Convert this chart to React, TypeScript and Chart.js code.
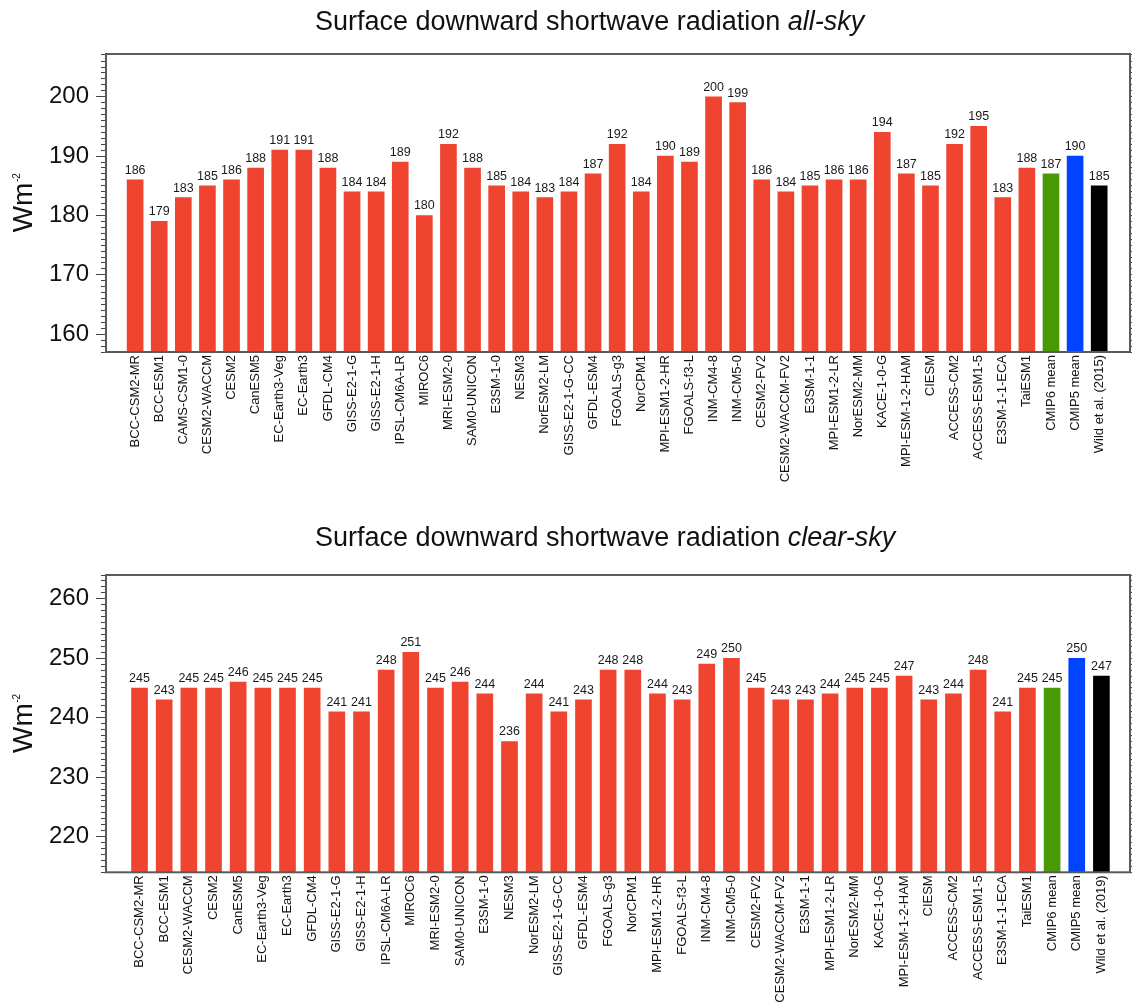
import React, { useEffect, useRef } from "react";
import { Chart, registerables } from "chart.js";

Chart.register(...registerables);

const FONT = "'Liberation Sans', Arial, Helvetica, sans-serif";

// ---- all-sky panel -------------------------------------------------------
const allSkyModels = [
  "BCC-CSM2-MR", "BCC-ESM1", "CAMS-CSM1-0", "CESM2-WACCM", "CESM2", "CanESM5",
  "EC-Earth3-Veg", "EC-Earth3", "GFDL-CM4", "GISS-E2-1-G", "GISS-E2-1-H",
  "IPSL-CM6A-LR", "MIROC6", "MRI-ESM2-0", "SAM0-UNICON", "E3SM-1-0", "NESM3",
  "NorESM2-LM", "GISS-E2-1-G-CC", "GFDL-ESM4", "FGOALS-g3", "NorCPM1",
  "MPI-ESM1-2-HR", "FGOALS-f3-L", "INM-CM4-8", "INM-CM5-0", "CESM2-FV2",
  "CESM2-WACCM-FV2", "E3SM-1-1", "MPI-ESM1-2-LR", "NorESM2-MM", "KACE-1-0-G",
  "MPI-ESM-1-2-HAM", "CIESM", "ACCESS-CM2", "ACCESS-ESM1-5", "E3SM-1-1-ECA",
  "TaiESM1", "CMIP6 mean", "CMIP5 mean", "Wild et al. (2015)",
];
const allSkyValues = [
  186, 179, 183, 185, 186, 188, 191, 191, 188, 184, 184, 189, 180, 192, 188,
  185, 184, 183, 184, 187, 192, 184, 190, 189, 200, 199, 186, 184, 185, 186,
  186, 194, 187, 185, 192, 195, 183, 188, 187, 190, 185,
];
const allSkyTickLabels = [160, 170, 180, 190, 200];

// ---- clear-sky panel -----------------------------------------------------
const clearSkyModels = [
  "BCC-CSM2-MR", "BCC-ESM1", "CESM2-WACCM", "CESM2", "CanESM5", "EC-Earth3-Veg",
  "EC-Earth3", "GFDL-CM4", "GISS-E2-1-G", "GISS-E2-1-H", "IPSL-CM6A-LR",
  "MIROC6", "MRI-ESM2-0", "SAM0-UNICON", "E3SM-1-0", "NESM3", "NorESM2-LM",
  "GISS-E2-1-G-CC", "GFDL-ESM4", "FGOALS-g3", "NorCPM1", "MPI-ESM1-2-HR",
  "FGOALS-f3-L", "INM-CM4-8", "INM-CM5-0", "CESM2-FV2", "CESM2-WACCM-FV2",
  "E3SM-1-1", "MPI-ESM1-2-LR", "NorESM2-MM", "KACE-1-0-G", "MPI-ESM-1-2-HAM",
  "CIESM", "ACCESS-CM2", "ACCESS-ESM1-5", "E3SM-1-1-ECA", "TaiESM1",
  "CMIP6 mean", "CMIP5 mean", "Wild et al. (2019)",
];
const clearSkyValues = [
  245, 243, 245, 245, 246, 245, 245, 245, 241, 241, 248, 251, 245, 246, 244,
  236, 244, 241, 243, 248, 248, 244, 243, 249, 250, 245, 243, 243, 244, 245,
  245, 247, 243, 244, 248, 241, 245, 245, 250, 247,
];
const clearSkyTickLabels = [220, 230, 240, 250, 260];

// colours: individual models, CMIP6 mean, CMIP5 mean, observational estimate
const MODEL_RED = "#ee4430";
const CMIP6_GREEN = "#4a9a08";
const CMIP5_BLUE = "#0044ff";
const OBS_BLACK = "#000000";

function barColours(n: number): string[] {
  return Array.from({ length: n }, (_, i) =>
    i === n - 3 ? CMIP6_GREEN : i === n - 2 ? CMIP5_BLUE : i === n - 1 ? OBS_BLACK : MODEL_RED
  );
}

type PanelSpec = {
  models: string[];
  values: number[];
  tickLabels: number[];
  yMin: number;
  yMax: number;
  xMin: number;
  xMax: number;
  heading: string;
  headingItalic: string;
  headingBaseline: number;
  frameTop: number;
  frameBottom: number;
  height: number;
};

const WIDTH = 1132;
const AXIS_LEFT = 106;

function makeConfig(p: PanelSpec): any {
  const isMajor = (v: number) => p.tickLabels.includes(v);

  const headingPlugin = {
    id: "heading",
    afterDraw(chart: any) {
      const ctx = chart.ctx;
      ctx.save();
      ctx.fillStyle = "#111";
      ctx.textAlign = "left";
      ctx.textBaseline = "alphabetic";
      ctx.font = `27px ${FONT}`;
      const x0 = 315;
      ctx.fillText(p.heading, x0, p.headingBaseline);
      const w = ctx.measureText(p.heading).width;
      ctx.font = `italic 27px ${FONT}`;
      ctx.fillText(p.headingItalic, x0 + w, p.headingBaseline);
      ctx.restore();
    },
  };

  const unitPlugin = {
    id: "unitTitle",
    afterDraw(chart: any) {
      const ctx = chart.ctx;
      const { top, bottom } = chart.chartArea;
      ctx.save();
      ctx.translate(31.5, (top + bottom) / 2);
      ctx.rotate(-Math.PI / 2);
      ctx.fillStyle = "#111";
      ctx.textBaseline = "alphabetic";
      ctx.textAlign = "left";
      ctx.font = `28px ${FONT}`;
      const w1 = ctx.measureText("Wm").width;
      ctx.font = `10px ${FONT}`;
      const w2 = ctx.measureText("-2").width;
      const start = -(w1 + w2) / 2;
      ctx.font = `28px ${FONT}`;
      ctx.fillText("Wm", start, 0);
      ctx.font = `10px ${FONT}`;
      ctx.fillText("-2", start + w1 + 0.5, -12);
      ctx.restore();
    },
  };

  const valueLabelPlugin = {
    id: "valueLabels",
    afterDatasetsDraw(chart: any) {
      const ctx = chart.ctx;
      const meta = chart.getDatasetMeta(0);
      ctx.save();
      ctx.fillStyle = "#1a1a1a";
      ctx.textAlign = "center";
      ctx.textBaseline = "alphabetic";
      ctx.font = `12.5px ${FONT}`;
      meta.data.forEach((bar: any, i: number) => {
        ctx.fillText(String(p.values[i]), bar.x, bar.y - 6);
      });
      ctx.restore();
    },
  };

  const framePlugin = {
    id: "frame",
    afterDatasetsDraw(chart: any) {
      const { left, top, right, bottom } = chart.chartArea;
      const ctx = chart.ctx;
      ctx.save();
      ctx.strokeStyle = "#5a5a5a";
      ctx.lineWidth = 2;
      ctx.strokeRect(left, top, right - left, bottom - top);
      ctx.restore();
    },
  };

  const yGrid = (minorDash: number[]) => ({
    drawOnChartArea: false,
    drawTicks: true,
    tickLength: 10,
    tickColor: "#444",
    tickWidth: 1,
    tickBorderDash: (c: any) => (c.tick && isMajor(c.tick.value) ? [] : minorDash),
  });

  return {
    type: "bar",
    data: {
      datasets: [
        {
          data: p.values.map((v, i) => ({ x: i, y: v })),
          backgroundColor: barColours(p.values.length),
          borderWidth: 0,
          barThickness: 16,
        },
      ],
    },
    options: {
      responsive: false,
      animation: false,
      layout: { padding: { top: p.frameTop, left: 0, right: 0, bottom: 0 } },
      plugins: {
        legend: { display: false },
        tooltip: { enabled: false },
        title: { display: false },
      },
      scales: {
        x: {
          type: "linear",
          position: "bottom",
          min: p.xMin,
          max: p.xMax,
          grid: { display: false, drawTicks: false },
          border: { display: false },
          afterBuildTicks: (scale: any) => {
            scale.ticks = p.models.map((_, i) => ({ value: i }));
          },
          afterFit: (scale: any) => {
            scale.height = p.height - p.frameBottom;
          },
          ticks: {
            autoSkip: false,
            minRotation: 90,
            maxRotation: 90,
            padding: 3,
            color: "#111",
            font: { family: FONT, size: 13 },
            callback: (v: number) => p.models[v] ?? "",
          },
        },
        y: {
          type: "linear",
          position: "left",
          min: p.yMin,
          max: p.yMax,
          border: { display: false },
          grid: yGrid([0, 5, 5, 0]),
          afterFit: (scale: any) => {
            scale.width = AXIS_LEFT;
          },
          ticks: {
            stepSize: 1,
            autoSkip: false,
            padding: 7,
            color: "#111",
            font: { family: FONT, size: 24 },
            callback: (v: number) => (isMajor(v) ? String(v) : ""),
          },
        },
        yRight: {
          type: "linear",
          position: "right",
          min: p.yMin,
          max: p.yMax,
          border: { display: false },
          grid: yGrid([5, 100]),
          afterFit: (scale: any) => {
            scale.width = 2;
          },
          ticks: { stepSize: 1, autoSkip: false, display: false },
        },
      },
    },
    plugins: [framePlugin, valueLabelPlugin, headingPlugin, unitPlugin],
  };
}

const allSkyPanel: PanelSpec = {
  models: allSkyModels,
  values: allSkyValues,
  tickLabels: allSkyTickLabels,
  yMin: 157,
  yMax: 207.2,
  xMin: -0.69,
  xMax: 40.76,
  heading: "Surface downward shortwave radiation ",
  headingItalic: "all-sky",
  headingBaseline: 30,
  frameTop: 54,
  frameBottom: 352,
  height: 505,
};

const clearSkyPanel: PanelSpec = {
  models: clearSkyModels,
  values: clearSkyValues,
  tickLabels: clearSkyTickLabels,
  yMin: 214,
  yMax: 264,
  xMin: -0.84,
  xMax: 39.64,
  heading: "Surface downward shortwave radiation ",
  headingItalic: "clear-sky",
  headingBaseline: 41,
  frameTop: 70,
  frameBottom: 367.3,
  height: 500,
};

function Panel({ spec, top }: { spec: PanelSpec; top: number }) {
  const ref = useRef<HTMLCanvasElement | null>(null);
  useEffect(() => {
    if (!ref.current) return;
    const chart = new Chart(ref.current, makeConfig(spec));
    return () => chart.destroy();
  }, [spec]);
  return (
    <canvas
      ref={ref}
      width={WIDTH}
      height={spec.height}
      style={{ position: "absolute", left: 0, top, width: WIDTH, height: spec.height, display: "block" }}
    />
  );
}

export default function App() {
  return (
    <div
      style={{
        position: "fixed",
        left: 0,
        top: 0,
        width: WIDTH,
        height: 1005,
        background: "#ffffff",
        overflow: "hidden",
      }}
    >
      <Panel spec={allSkyPanel} top={0} />
      <Panel spec={clearSkyPanel} top={505} />
    </div>
  );
}
